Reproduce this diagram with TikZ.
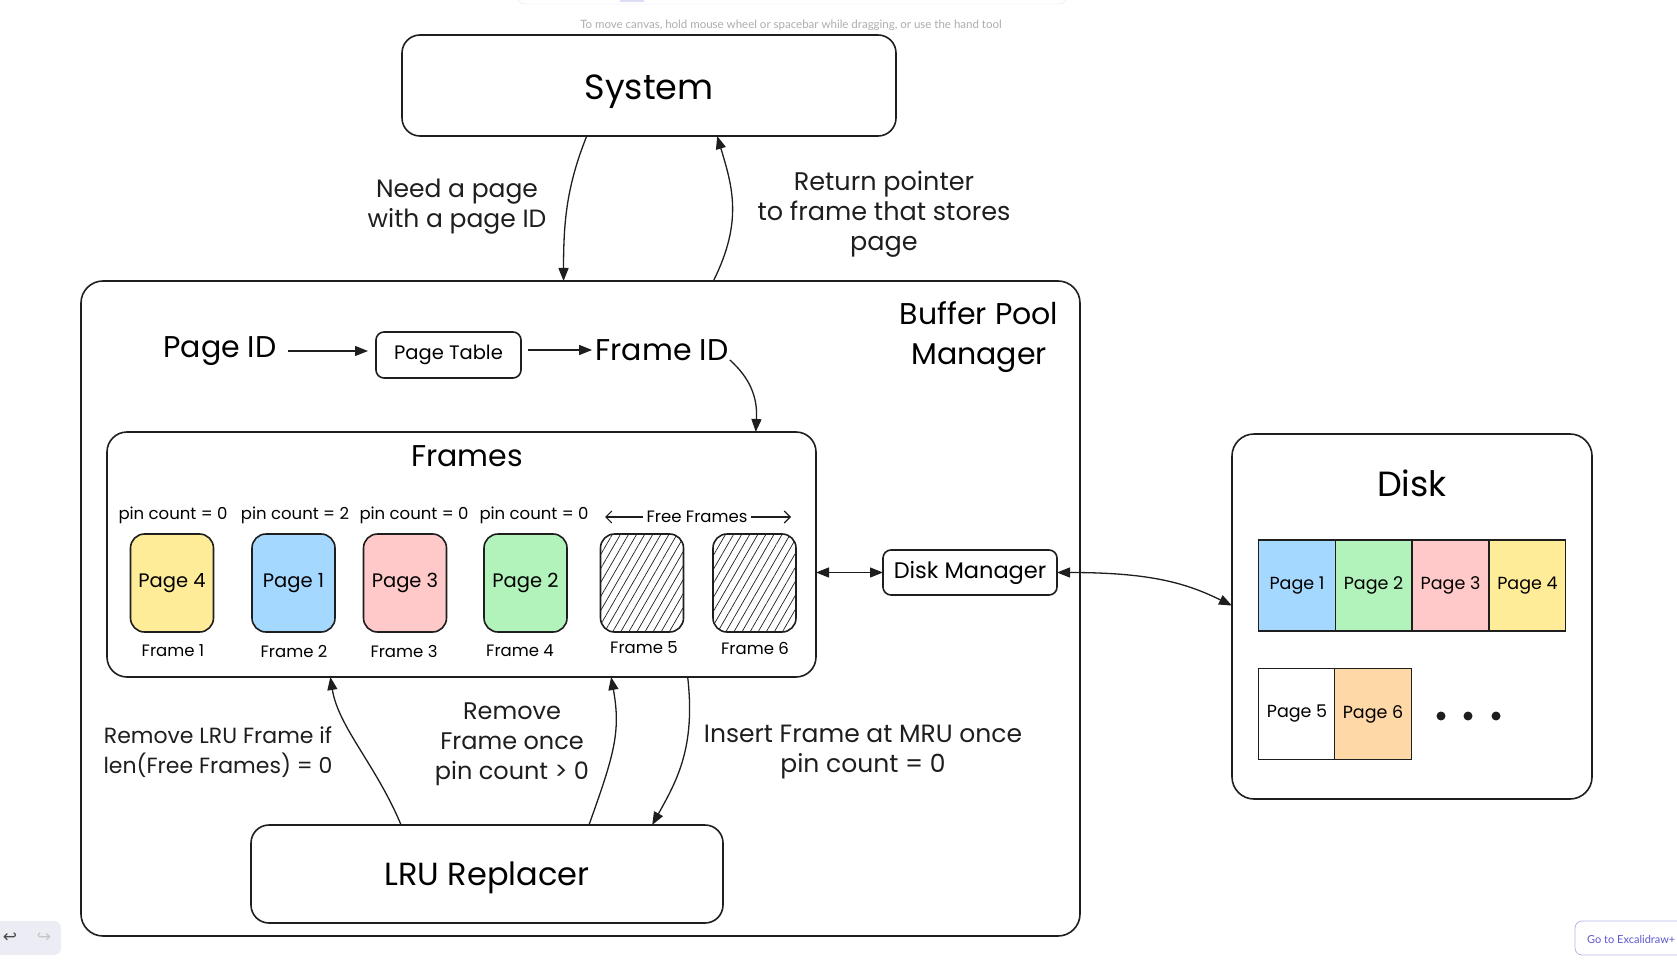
\documentclass[tikz,border=0pt]{standalone}
\usepackage{fontspec}
\setmainfont{Poppins}
\newfontfamily\uifont{Lato}
\newfontfamily\symfont{DejaVu Sans}
\usetikzlibrary{arrows.meta, calc, patterns.meta}

\definecolor{ink}{HTML}{1E1E1E}
\definecolor{pyellow}{HTML}{FFEC99}
\definecolor{pblue}{HTML}{A5D8FF}
\definecolor{ppink}{HTML}{FFC9C9}
\definecolor{pgreen}{HTML}{B2F2BB}
\definecolor{porange}{HTML}{FFD8A8}
\definecolor{uipurple}{HTML}{5B57D1}
\definecolor{uibg}{HTML}{ECECF4}

\newcommand\fbig{\fontsize{35}{43}\selectfont}
\newcommand\ftitle{\fontsize{30}{40}\selectfont}
\newcommand\fsmall{\fontsize{16.5}{20}\selectfont}
\newcommand\fcell{\fontsize{19.5}{24}\selectfont}
\newcommand\fdcell{\fontsize{17.5}{22}\selectfont}

\begin{document}
\begin{tikzpicture}[x=1pt, y=-1pt,
  rbox/.style={draw=ink, line width=1.6pt, rounded corners=#1, inner sep=0pt, outer sep=0pt},
  rbox/.default=18pt,
  fcellbox/.style={rbox=14pt, minimum width=83pt, minimum height=98pt, fill=#1, font=\fcell},
  hatchbox/.style={rbox=14pt, minimum width=83pt, minimum height=98pt,
                   pattern={Lines[angle=60, distance=7pt, line width=0.7pt]}, pattern color=ink},
  dcell/.style={draw=ink, line width=1.3pt, minimum width=76.5pt, minimum height=91pt,
                inner sep=0pt, fill=#1, font=\fdcell},
  arr/.style={-{Triangle[length=13pt,width=10pt]}, line width=1.3pt, draw=ink},
  biarr/.style={{Triangle[length=13pt,width=10pt]}-{Triangle[length=13pt,width=10pt]}, line width=1.3pt, draw=ink},
  barb/.style={-{Straight Barb[length=6pt,width=12pt]}, line width=1.1pt, draw=ink},
  lbl/.style={font=\fontsize{#1}{30}\selectfont, align=center, text=ink},
  lbl/.default=22,
  hint/.style={font=\uifont\fontsize{11.5}{14}\selectfont, text=gray!65},
]
\useasboundingbox (0,0) rectangle (1677,965);

%% Editor chrome
\draw[gray!20, fill=white, rounded corners=8pt] (517,-40) rectangle (1067,4);
\fill[uipurple!20] (620,-5) rectangle (644,2);
\node[hint] (hint) at (791,25) {To move canvas, hold mouse wheel or spacebar while dragging, or use the hand tool};
\fill[uibg, rounded corners=7pt] (-10,921) rectangle (61,955);
\node[font=\symfont\fontsize{17}{19}\selectfont, text=ink!80] (undo) at (10,938) {↩};
\node[font=\symfont\fontsize{17}{19}\selectfont, text=gray!45] (redo) at (44,938) {↪};
\draw[uipurple!45, line width=0.8pt, rounded corners=7pt] (1575,921) rectangle (1700,955);
\node[font=\uifont\fontsize{11}{14}\selectfont, text=uipurple, anchor=west, inner sep=0pt] (plus) at (1587,939) {Go to Excalidraw+};

%% System
\node[rbox=18pt, minimum width=494pt, minimum height=101pt, font=\fbig] (sys) at (649,85.5) {\raisebox{-14pt}[0pt][0pt]{System}};

%% Buffer Pool Manager
\node[rbox=22pt, minimum width=999pt, minimum height=655pt] (bpm) at (580.5,608.5) {};
\node[font=\ftitle, align=center] (bpmlbl) at (979,337) {Buffer Pool\\Manager};

%% Page ID  -->  Page Table  -->  Frame ID
\node[font=\ftitle] (pid) at (220,351) {Page ID};
\node[rbox=8pt, minimum width=145pt, minimum height=46pt, font=\fcell] (ptab) at (448.5,355) {Page Table};
\node[font=\ftitle] (fid) at (662,350) {Frame ID};
\draw[arr, shorten <=8pt, shorten >=8pt] (pid.east) -- (pid.east -| ptab.west);
\draw[arr, shorten <=7pt] (ptab.east |- fid.west) -- (fid.west);

%% Frames
\node[rbox=20pt, minimum width=709pt, minimum height=245pt] (frames) at (461.5,554.5) {};
\node[font=\ftitle] (frttl) at (467,456) {Frames};
\foreach \x/\n in {173/0, 295/2, 414/0, 534/0}
  \node[font=\fsmall] (pc\x) at (\x,515) {pin count = \n};
\foreach \i/\x/\pg/\col in {1/172/4/pyellow, 2/293.5/1/pblue, 3/405/3/ppink, 4/525.5/2/pgreen} {
  \node[fcellbox=\col] (f\i) at (\x,583) {Page \pg};
}
\foreach \i/\x in {5/642, 6/754.5}
  \node[hatchbox] (f\i) at (\x,583) {};
\foreach \i/\x/\y in {1/173/651, 2/294/651, 3/404/651, 4/520/651, 5/644/648, 6/755/648}
  \node[font=\fsmall] (fl\i) at (\x,\y) {Frame \i};
\node[font=\fsmall] (free) at (697,517) {Free Frames};
\coordinate (freel) at (605,517);
\coordinate (freer) at (791,517);
\draw[barb] (free.west) -- (freel);
\draw[barb] (free.east) -- (freer);

%% Disk Manager
\node[rbox=8pt, minimum width=174pt, minimum height=45pt, font=\fontsize{22.5}{27}\selectfont] (dm) at (970,572.5) {Disk Manager};

%% Disk
\node[rbox=22pt, minimum width=360pt, minimum height=365pt] (disk) at (1412,616.5) {};
\node[font=\fbig] (dttl) at (1412,483) {Disk};
\foreach \i/\x/\col in {1/1297/pblue, 2/1373.5/pgreen, 3/1450.5/ppink, 4/1527.5/pyellow}
  \node[dcell=\col] (d\i) at (\x,585.5) {Page \i};
\foreach \i/\x/\col in {5/1297/white, 6/1373/porange}
  \node[dcell=\col] (d\i) at (\x,714) {Page \i};
\foreach \x in {1441,1468,1496}
  \node[circle, fill=ink, minimum size=9pt, inner sep=0pt] (dot\x) at (\x,716) {};

%% LRU Replacer
\node[rbox=18pt, minimum width=472pt, minimum height=98pt, font=\fontsize{32}{40}\selectfont] (lru) at (487,874) {\raisebox{-11.5pt}[0pt][0pt]{LRU Replacer}};

%% Arrows
\draw[arr] ($(sys.south west)!0.374!(sys.south east)$) .. controls +(-20,50) and +(0,-60) ..
  ($(bpm.north west)!0.483!(bpm.north east)$);
\draw[arr] ($(bpm.north west)!0.633!(bpm.north east)$) .. controls +(30,-60) and +(15,50) ..
  ($(sys.south west)!0.638!(sys.south east)$);
\draw[arr] ($(fid.east)+(-2,10)$) .. controls +(20,18) and +(2,-35) ..
  ($(frames.north west)!0.915!(frames.north east)$);
\draw[biarr] (frames.east |- dm.west) -- (dm.west);
\draw[biarr] (dm.east) .. controls +(95,0) and +(-45,-22) ..
  ($(disk.north west)!0.47!(disk.south west)$);
\draw[arr] ($(lru.north west)!0.318!(lru.north east)$) .. controls +(-25,-60) and +(8,50) ..
  ($(frames.south west)!0.315!(frames.south east)$);
\draw[arr] ($(lru.north west)!0.716!(lru.north east)$) .. controls +(25,-70) and +(10,55) ..
  ($(frames.south west)!0.711!(frames.south east)$);
\draw[arr] ($(frames.south west)!0.819!(frames.south east)$) .. controls +(8,70) and +(25,-45) ..
  ($(lru.north west)!0.85!(lru.north east)$);

%% Labels
\node[lbl=25] (need) at (457,207) {Need a page\\with a page ID};
\node[lbl=25.5] (ret) at (884,214) {Return pointer\\to frame that stores\\page};
\node[lbl] (rmlru) at (218,752) {Remove LRU Frame if\\len(Free Frames) = 0};
\node[lbl=24] (rmpin) at (512,744) {Remove\\Frame once\\pin count > 0};
\node[lbl=25] (ins) at (863,752) {Insert Frame at MRU once\\pin count = 0};

\end{tikzpicture}
\end{document}
